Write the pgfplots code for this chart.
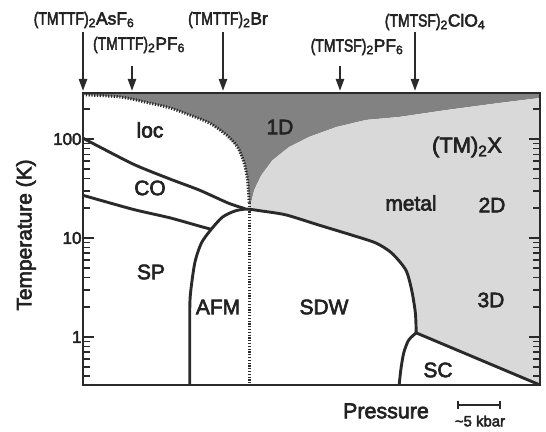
\documentclass[border=0pt]{standalone}
\usepackage{pgfplots}
\pgfplotsset{compat=1.18}
\usepackage{graphicx}
\usepackage{fontspec}
\usetikzlibrary{arrows.meta}
\setmainfont{Liberation Sans}
\newfontfamily\lab{Liberation Sans}[FakeBold=3]
\definecolor{linec}{HTML}{2A2A2A}
\definecolor{textc}{HTML}{222222}
\definecolor{darkg}{HTML}{828282}
\definecolor{lightg}{HTML}{D9D9D9}
\newcommand{\sq}[1]{\scalebox{0.8}[1]{#1}}
\begin{document}
\begin{tikzpicture}
\useasboundingbox (0,0) rectangle (546bp,432bp);
\begin{axis}[
  at={(83bp,47bp)}, anchor=south west,
  scale only axis, width=457bp, height=292bp,
  xmin=0, xmax=11, ymode=log, ymin=0.327, ymax=292,
  axis line style={line width=2.4bp, color=linec},
  xtick=\empty, minor xtick={1,2,3,4,5,6,7,8,9,10},
  ytick={1,10,100}, yticklabels={1,10,100},
  minor ytick={0.4,0.5,0.6,0.7,0.8,0.9,2,3,4,5,6,7,8,9,20,30,40,50,60,70,80,90,200},
  tick style={line width=1.7bp, color=linec},
  major tick length=11bp, minor tick length=7bp,
  tick align=inside,
  yticklabel pos=left,
  /pgf/number format/assume math mode=true,
  yticklabel style={font=\lab\fontsize{17}{17}\selectfont, text=textc, xshift=2bp},
  axis on top,
  clip=true,
]
% dark gray 1D region
\addplot[fill=darkg, draw=none] coordinates {
 (0,292) (0,280) (0.9,266) (1.6,231) (2.1,206) (2.57,175) (3.05,145) (3.45,110)
 (3.72,83) (3.88,57) (3.96,38.5) (4.0,22.6) (4.02,21) (4.03,21.5) (4.12,30.5) (4.29,43) (4.56,61)
 (4.96,83) (5.44,105) (6.09,132) (6.81,156) (7.60,167) (8.73,196) (10.0,231) (11,260) (11,292)
} -- cycle;
% light gray metal region
\addplot[fill=lightg, draw=none] coordinates {
 (11,260) (10.0,231) (8.73,196) (7.60,167) (6.81,156) (6.09,132) (5.44,105) (4.96,83)
 (4.56,61) (4.29,43) (4.12,30.5) (4.03,21.5) (4.0,20) (4.32,18.7) (4.89,17.1) (5.68,13.5)
 (6.47,10.7) (7.05,8.9) (7.43,7.05) (7.77,4.75) (7.91,2.99) (8.01,1.75) (8.01,1.10)
 (11,0.327)
} -- cycle;
% dotted boundary
\addplot[line width=3bp, color=linec, dash pattern=on 1.2bp off 1.6bp, smooth, tension=0.5] coordinates {
 (0,280) (0.9,266) (1.6,231) (2.1,206) (2.57,175) (3.05,145) (3.45,110)
 (3.72,83) (3.88,57) (3.96,38.5) (4.0,22.6)
};
\addplot[line width=3bp, color=linec, dash pattern=on 1.2bp off 1.6bp] coordinates {
 (4.0,22.6) (4.0,0.327)
};
% loc/CO line
\addplot[line width=2.9bp, color=linec, smooth, tension=0.4] coordinates {
 (0,102) (1.2,56) (2.09,39.5) (2.8,30.5) (3.5,22.5) (3.9,19.8)
};
% CO/SP line
\addplot[line width=2.9bp, color=linec, smooth, tension=0.4] coordinates {
 (0,27) (1.2,19.5) (2.09,16) (2.8,13.2) (3.07,12.3)
};
% AFM/SDW dome
\addplot[line width=2.9bp, color=linec, smooth, tension=0.45] coordinates {
 (2.57,0.327) (2.57,1.2) (2.58,2.54) (2.69,5.58) (2.85,8.9) (3.09,12.3) (3.36,16.3) (3.65,18.7)
 (3.93,19.6) (4.32,18.7) (4.89,17.1) (5.68,13.5) (6.47,10.7) (7.05,8.9) (7.43,7.05) (7.77,4.75)
 (7.91,2.99) (8.0,1.75) (8.02,1.10)
};
% SC dome
\addplot[line width=2.9bp, color=linec, smooth, tension=0.5] coordinates {
 (8.02,1.10) (7.84,0.93) (7.72,0.69) (7.65,0.465) (7.61,0.327)
};
% SC/metal line
\addplot[line width=2.9bp, color=linec] coordinates {
 (8.02,1.10) (11,0.327)
};
\end{axis}
\begin{scope}[x=1bp, y=-1bp, yshift=432bp, every node/.style={text=textc, inner sep=0pt}]
\tikzset{
  lbl/.style={font=\lab\fontsize{21}{21}\selectfont},
  top/.style={font=\lab\fontsize{17.5}{17.5}\selectfont},
  arr/.style={line width=2.2bp, color=linec, -{Triangle[length=12bp, width=8bp]}},
}
\node[lbl] at (150,130) {loc};
\node[lbl] at (150,188) {CO};
\node[lbl] at (151,272) {SP};
\node[lbl] at (280,127) {1D};
\node[font=\lab\fontsize{22}{22}\selectfont] at (467,147) {(TM)\textsubscript{2}X};
\node[lbl] at (411,203) {metal};
\node[lbl] at (492,205) {2D};
\node[lbl] at (491,300) {3D};
\node[lbl] at (218,307) {AFM};
\node[lbl] at (324,307) {SDW};
\node[lbl] at (438,370) {SC};
\node[font=\lab\fontsize{21.5}{21.5}\selectfont] at (386,411) {Pressure};
\node[font=\lab\fontsize{15}{15}\selectfont] at (480,421) {\textasciitilde5 kbar};
\node[font=\lab\fontsize{21}{21}\selectfont, rotate=90] at (26,235) {Temperature (K)};
% scale bar
\draw[line width=1.6bp, color=linec] (458,405) -- (500,405);
\draw[line width=1.6bp, color=linec] (458,401) -- (458,409);
\draw[line width=1.6bp, color=linec] (500,401) -- (500,409);
% compound labels and arrows
\node[top] at (84,20) {\sq{(TMTTF)}\textsubscript{2}AsF\textsubscript{6}};
\node[top] at (139,45) {\sq{(TMTTF)}\textsubscript{2}PF\textsubscript{6}};
\node[top] at (228,20) {\sq{(TMTTF)}\textsubscript{2}Br};
\node[top] at (357,47) {\sq{(TMTSF)}\textsubscript{2}PF\textsubscript{6}};
\node[top] at (435,22) {\sq{(TMTSF)}\textsubscript{2}ClO\textsubscript{4}};
\draw[arr] (83,32) -- (83,91);
\draw[arr] (132,66) -- (132,91);
\draw[arr] (223,32) -- (223,91);
\draw[arr] (340,66) -- (340,91);
\draw[arr] (415,32) -- (415,91);
\end{scope}
\end{tikzpicture}
\end{document}
